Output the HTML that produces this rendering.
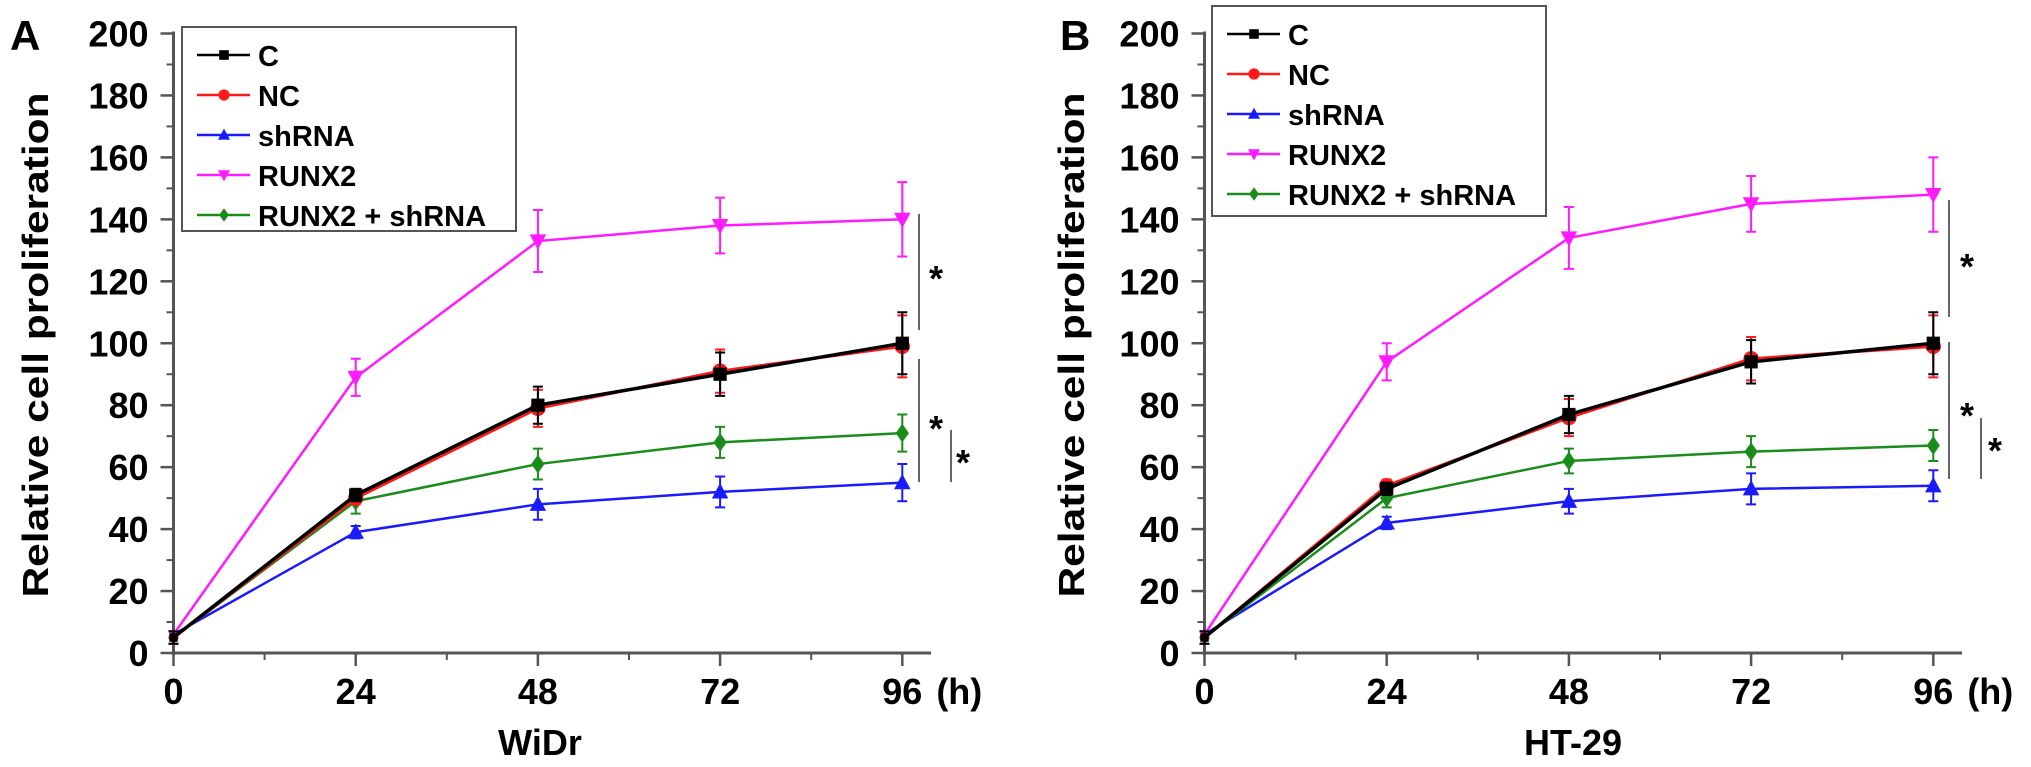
<!DOCTYPE html>
<html><head><meta charset="utf-8"><style>
html,body{margin:0;padding:0;background:#fff;}
svg{display:block;font-family:"Liberation Sans",Arial,sans-serif;font-weight:bold;}
</style></head><body>
<svg id="fig" width="2031" height="767" viewBox="0 0 2031 767"></svg>
<script>
const hours = [0, 24, 48, 72, 96];
const yTicks = [0, 20, 40, 60, 80, 100, 120, 140, 160, 180, 200];
const seriesNames = ["C", "NC", "shRNA", "RUNX2", "RUNX2 + shRNA"];
const widrC = [5, 51, 80, 90, 100];
const widrNC = [5, 50, 79, 91, 99];
const widrSh = [6, 39, 48, 52, 55];
const widrRunx = [6, 89, 133, 138, 140];
const widrRunxSh = [5, 49, 61, 68, 71];
const widrErrC = [2, 2, 6, 7, 10];
const widrErrNC = [2, 2, 6, 7, 10];
const widrErrSh = [1, 2, 5, 5, 6];
const widrErrRunx = [1, 6, 10, 9, 12];
const widrErrRunxSh = [2, 4, 5, 5, 6];
const htC = [5, 53, 77, 94, 100];
const htNC = [5, 54, 76, 95, 99];
const htSh = [6, 42, 49, 53, 54];
const htRunx = [6, 94, 134, 145, 148];
const htRunxSh = [5, 50, 62, 65, 67];
const htErrC = [2, 2, 6, 7, 10];
const htErrNC = [2, 2, 6, 7, 10];
const htErrSh = [1, 2, 4, 5, 5];
const htErrRunx = [1, 6, 10, 9, 12];
const htErrRunxSh = [2, 3, 4, 5, 5];

const NS = "http://www.w3.org/2000/svg";
const svg = document.getElementById("fig");
function mk(tag, attrs, parent, text){
  const e = document.createElementNS(NS, tag);
  for (const k in attrs) e.setAttribute(k, attrs[k]);
  if (text !== undefined) e.textContent = text;
  (parent || svg).appendChild(e);
  return e;
}
const colors = ["#000000", "#ff1a1a", "#1a1aff", "#ff1aff", "#1a8c1a"];
const widths = [3.5, 3, 2.5, 2.5, 2.5];
function marker(g, kind, cx, cy, color, s){
  let e;
  if (kind === 0) e = mk("rect", {x: cx - s*0.6, y: cy - s*0.6, width: s*1.2, height: s*1.2, fill: color}, g);
  else if (kind === 1) e = mk("circle", {cx: cx, cy: cy, r: s*0.7, fill: color}, g);
  else if (kind === 2) e = mk("polygon", {points: `${cx},${cy-s*0.8} ${cx-s*0.75},${cy+s*0.6} ${cx+s*0.75},${cy+s*0.6}`, fill: color}, g);
  else if (kind === 3) e = mk("polygon", {points: `${cx},${cy+s*0.8} ${cx-s*0.75},${cy-s*0.6} ${cx+s*0.75},${cy-s*0.6}`, fill: color}, g);
  else e = mk("polygon", {points: `${cx},${cy-s*0.85} ${cx-s*0.6},${cy} ${cx},${cy+s*0.85} ${cx+s*0.6},${cy}`, fill: color}, g);
  
  
  return e;
}

function panel(cfg){
  const g = mk("g", {});
  
  
  const x0 = cfg.x0, xs = cfg.xs, y0 = 653, ys = 61.95/20;
  const X = h => x0 + h * xs / 24;
  const Y = v => y0 - v * ys;
  const L = mk("text", {x: cfg.letterX, y: 50, "font-size": 42}, g, cfg.letter);
  
  
  const ya = mk("line", {x1: x0, y1: Y(200) - 2, x2: x0, y2: y0 + 2, stroke: "#555", "stroke-width": 3}, g);
  
  
  yTicks.forEach((t, i) => {
    mk("line", {x1: x0 - 13, y1: Y(t), x2: x0, y2: Y(t), stroke: "#555", "stroke-width": 2.5}, g);
    if (i < yTicks.length - 1) mk("line", {x1: x0 - 7, y1: Y(t + 10), x2: x0, y2: Y(t + 10), stroke: "#555", "stroke-width": 2}, g);
    const tl = mk("text", {x: x0 - 25, y: Y(t) + 13, "font-size": 36, "text-anchor": "end"}, g, String(t));
    
    
  });
  const xa = mk("line", {x1: x0 - 2, y1: y0, x2: cfg.xEnd, y2: y0, stroke: "#555", "stroke-width": 3}, g);
  
  
  hours.forEach((h, i) => {
    mk("line", {x1: X(h), y1: y0, x2: X(h), y2: y0 + 13, stroke: "#555", "stroke-width": 2.5}, g);
    if (i < hours.length - 1) mk("line", {x1: X(h + 12), y1: y0, x2: X(h + 12), y2: y0 + 7, stroke: "#555", "stroke-width": 2}, g);
    const tl = mk("text", {x: X(h), y: 704, "font-size": 36, "text-anchor": "middle"}, g, String(h));
    
    
  });
  const hu = mk("text", {x: X(96) + 57, y: 704, "font-size": 36, "text-anchor": "middle"}, g, "(h)");
  
  
  const xt = mk("text", {x: cfg.xTitleX, y: 755, "font-size": 36, "text-anchor": "middle"}, g, cfg.xTitle);
  
  
  const yt = mk("text", {x: 0, y: 0, "font-size": 36, "text-anchor": "middle", transform: `translate(${cfg.yTitleX},345) rotate(-90)`, textLength: 505, lengthAdjust: "spacingAndGlyphs"}, g, "Relative cell proliferation");
  
  
  const order = [2, 4, 3, 1, 0];
  order.forEach(k => {
    const vals = cfg.vals[k], errs = cfg.errs[k];
    const sg = mk("g", {}, g);
    
    
    const pts = hours.map((h, i) => X(h) + "," + Y(vals[i])).join(" ");
    const pl = mk("polyline", {points: pts, fill: "none", stroke: colors[k], "stroke-width": widths[k]}, sg);
    
    
    hours.forEach((h, i) => {
      const e = errs[i];
      const eb = mk("path", {d: `M${X(h)},${Y(vals[i]+e)}V${Y(vals[i]-e)}M${X(h)-5},${Y(vals[i]+e)}h10M${X(h)-5},${Y(vals[i]-e)}h10`, stroke: colors[k], "stroke-width": 2, fill: "none"}, sg);
      
      
      marker(sg, k, X(h), Y(vals[i]), colors[k], i === 0 ? 7 : 11);
    });
  });
  cfg.sig.forEach(s => {
    const l = mk("line", {x1: s[0], y1: s[1], x2: s[0], y2: s[2], stroke: "#666", "stroke-width": 2}, g);
    
    
    const st = mk("text", {x: s[3], y: s[4] + 20, "font-size": 36, "text-anchor": "middle"}, g, "*");
    
    
  });
  const lg = mk("g", {}, g);
  
  
  const lx = cfg.legX, lw = cfg.legW;
  mk("rect", {x: lx, y: cfg.legY, width: lw, height: cfg.legH, fill: "#fff", stroke: "#555", "stroke-width": 2}, lg);
  seriesNames.forEach((n, k) => {
    const cy = cfg.legY + 28 + k * 40;
    const en = mk("g", {}, lg);
    
    
    mk("line", {x1: lx + 15, y1: cy, x2: lx + 68, y2: cy, stroke: colors[k], "stroke-width": 2.5}, en);
    marker(en, k, lx + 42, cy, colors[k], 8);
    mk("text", {x: lx + 76, y: cy + 11, "font-size": 29}, en, n);
  });
}

panel({id: "widr", letter: "A", letterX: 10, x0: 173.5, xs: 182.2, xEnd: 931, xTitle: "WiDr", xTitleX: 540, yTitleX: 48,
  vals: [widrC, widrNC, widrSh, widrRunx, widrRunxSh],
  errs: [widrErrC, widrErrNC, widrErrSh, widrErrRunx, widrErrRunxSh],
  legX: 182, legY: 27, legW: 334, legH: 204,
  sig: [[919, 214, 330, 936, 271], [919, 359, 482, 936, 421], [951, 430, 482, 963, 455]]});
panel({id: "ht29", letter: "B", letterX: 1060, x0: 1204.5, xs: 182.2, xEnd: 1962, xTitle: "HT-29", xTitleX: 1573, yTitleX: 1084,
  vals: [htC, htNC, htSh, htRunx, htRunxSh],
  errs: [htErrC, htErrNC, htErrSh, htErrRunx, htErrRunxSh],
  legX: 1212, legY: 6, legW: 334, legH: 210,
  sig: [[1949, 200, 317, 1967, 259], [1949, 342, 479, 1967, 408], [1981, 418, 479, 1995, 443]]});
</script>
</body></html>
